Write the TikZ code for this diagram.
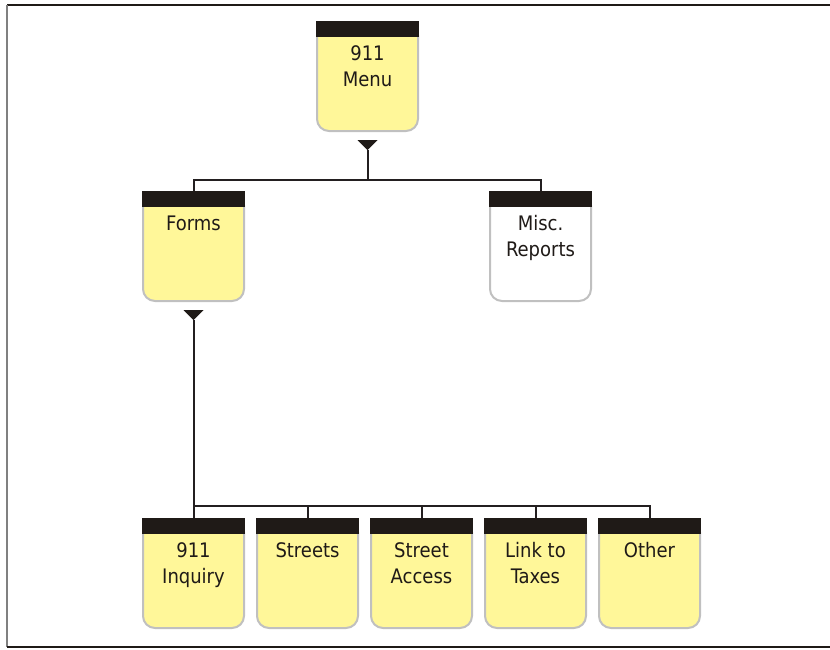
\documentclass[tikz,border=0pt]{standalone}
\usepackage{fontspec}
\setmainfont{DejaVu Sans Condensed}
\definecolor{boxyellow}{RGB}{255,247,153}
\definecolor{barblack}{RGB}{31,26,23}
\definecolor{outlinegray}{RGB}{192,192,192}
\definecolor{linedark}{RGB}{35,31,32}
\tikzset{
  barbox/.style={fill=barblack, draw=none, inner sep=0pt, minimum width=103pt, minimum height=16pt, anchor=north},
  boxline/.style={draw=outlinegray, line width=2pt},
  lbl/.style={font=\fontsize{20}{25.5}\selectfont, align=center, inner sep=0pt, anchor=north, text=barblack},
  conn/.style={draw=linedark, line width=2pt},
  tri/.style={fill=barblack, draw=none}
}
\newcommand\chartbox[6]{%
  \filldraw[boxline, fill=#6, rounded corners=12pt] (#2-50.5,#3+14) -- (#2-50.5,#4) -- (#2+50.5,#4) -- (#2+50.5,#3+14);
  \node[barbox] (#1-bar) at (#2,#3) {};
  \node[lbl] (#1) at (#2,#3+24.5) {#5};
}
\begin{document}
\begin{tikzpicture}[x=1pt,y=-1pt]
\useasboundingbox (0,0) rectangle (830,649);
% frame
\draw[barblack, line width=1.5pt] (7,5) -- (830,5);
\draw[gray, line width=2pt] (7,5) -- (7,647);
\draw[barblack, line width=1.5pt] (7,647) -- (830,647);
% boxes
\chartbox{menu}{367.5}{21}{131}{911\\Menu}{boxyellow}
\chartbox{forms}{193.5}{191}{301}{Forms}{boxyellow}
\chartbox{misc}{540.5}{191}{301}{Misc.\\Reports}{white}
\chartbox{inq}{193.5}{518}{628}{911\\Inquiry}{boxyellow}
\chartbox{streets}{307.5}{518}{628}{Streets}{boxyellow}
\chartbox{access}{421.5}{518}{628}{Street\\Access}{boxyellow}
\chartbox{taxes}{535.5}{518}{628}{Link to\\Taxes}{boxyellow}
\chartbox{other}{649.5}{518}{628}{Other}{boxyellow}
% triangles
\coordinate (menu-tri) at (367.5,150);
\fill[tri] (menu-tri) -- ++(-10,-10) -- ++(20,0) -- cycle;
\coordinate (forms-tri) at (193.5,320);
\fill[tri] (forms-tri) -- ++(-10,-10) -- ++(20,0) -- cycle;
% buses
\coordinate (bus1) at (367.5,180);
\coordinate (bus2) at (193.5,506);
\draw[conn] (menu-tri) -- (bus1);
\draw[conn] (forms-bar.north) |- (bus1) -| (misc-bar.north);
\draw[conn] (forms-tri) -- (inq-bar.north);
\draw[conn] (bus2) -| (streets-bar.north);
\draw[conn] (bus2) -| (access-bar.north);
\draw[conn] (bus2) -| (taxes-bar.north);
\draw[conn] (bus2) -| (other-bar.north);
\end{tikzpicture}
\end{document}
